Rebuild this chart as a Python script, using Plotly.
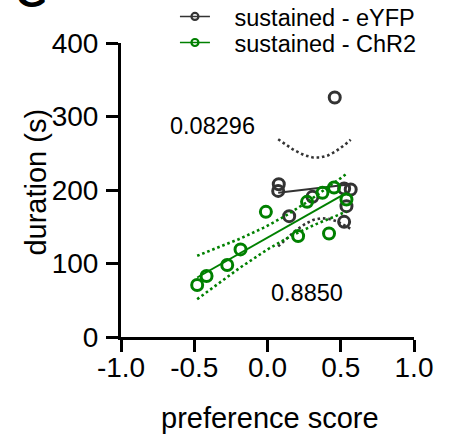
import numpy as np
import plotly.graph_objects as go

# ---------------- data ----------------
eyfp_x = [0.077, 0.073, 0.307, 0.148, 0.523, 0.568, 0.539, 0.523, 0.459]
eyfp_y = [207.9, 198.8, 190.7, 164.4, 202.1, 200.7, 178.0, 156.7, 325.8]

chr2_x = [-0.480, -0.416, -0.275, -0.184, -0.011, 0.209, 0.420, 0.270, 0.375, 0.454, 0.539]
chr2_y = [70.7, 82.9, 97.9, 119.2, 170.3, 137.3, 140.9, 183.9, 196.1, 203.5, 187.1]

series_names = ["sustained - eYFP", "sustained - ChR2"]
fit_labels = ["0.08296", "0.8850"]

x_ticks = [-1.0, -0.5, 0.0, 0.5, 1.0]
x_tick_labels = ["-1.0", "-0.5", "0.0", "0.5", "1.0"]
y_ticks = [0, 100, 200, 300, 400]

# two-sided 95% t critical values by degrees of freedom
t_crit = {7: 2.365, 9: 2.262}

DARK = "#333333"
GREEN = "#008000"
FONT = "Arial, 'Liberation Sans', sans-serif"


def fit_band(x, y, n_pts=80):
    x = np.asarray(x, float)
    y = np.asarray(y, float)
    n = len(x)
    b, a = np.polyfit(x, y, 1)
    xs = np.linspace(x.min(), x.max(), n_pts)
    yhat = a + b * xs
    resid = y - (a + b * x)
    s = np.sqrt(np.sum(resid ** 2) / (n - 2))
    sxx = np.sum((x - x.mean()) ** 2)
    se = s * np.sqrt(1.0 / n + (xs - x.mean()) ** 2 / sxx)
    t = t_crit[n - 2]
    return xs, yhat, yhat - t * se, yhat + t * se


fig = go.Figure()

for xs_data, ys_data, color, name, lg in [
    (eyfp_x, eyfp_y, DARK, series_names[0], "legend"),
    (chr2_x, chr2_y, GREEN, series_names[1], "legend2"),
]:
    xs, yhat, lo, hi = fit_band(xs_data, ys_data)
    for band in (lo, hi):
        fig.add_trace(go.Scatter(
            x=xs, y=band, mode="lines", showlegend=False, hoverinfo="skip",
            line=dict(color=color, width=2.6, dash="2.6px,2.8px")))
    fig.add_trace(go.Scatter(
        x=xs, y=yhat, mode="lines", showlegend=False, hoverinfo="skip",
        line=dict(color=color, width=2)))
    fig.add_trace(go.Scatter(
        x=xs_data, y=ys_data, mode="markers", showlegend=False,
        marker=dict(symbol="circle-open", size=11, color=color,
                    line=dict(width=3, color=color))))
    # legend entry
    fig.add_trace(go.Scatter(
        x=[None], y=[None], mode="lines+markers", name="\u00a0\u00a0\u00a0" + name,
        legend=lg,
        line=dict(color=color, width=1.6),
        marker=dict(symbol="circle-open", size=7, color=color,
                    line=dict(width=2.2, color=color))))

axis_common = dict(
    showline=True, linewidth=3, linecolor="black",
    ticks="outside", ticklen=12, tickwidth=3, tickcolor="black",
    showgrid=False, zeroline=False, automargin=False,
    tickfont=dict(family=FONT, size=28, color="black"),
)

fig.update_layout(
    width=451, height=440,
    margin=dict(l=121, r=37, t=43, b=103, autoexpand=False),
    paper_bgcolor="white", plot_bgcolor="white",
    font=dict(family=FONT, color="black"),
    xaxis=dict(range=[-1, 1], tickvals=x_ticks, ticktext=x_tick_labels,
               ticklabelstandoff=-9, **axis_common),
    yaxis=dict(range=[0, 400], tickvals=y_ticks, ticklabelstandoff=2, **axis_common),
    legend=dict(x=(175 - 121) / 293.3, xanchor="left", y=(337 - 16.7) / 294, yanchor="middle",
                font=dict(family=FONT, size=23.5, color="black"),
                bgcolor="rgba(0,0,0,0)", borderwidth=0),
    legend2=dict(x=(175 - 121) / 293.3, xanchor="left", y=(337 - 42.7) / 294, yanchor="middle",
                 font=dict(family=FONT, size=23.5, color="black"),
                 bgcolor="rgba(0,0,0,0)", borderwidth=0),
    annotations=[
        dict(text=fit_labels[0], x=-0.373, y=286.8, xref="x", yref="y",
             showarrow=False, font=dict(family=FONT, size=23.5, color="black")),
        dict(text=fit_labels[1], x=0.272, y=59.4, xref="x", yref="y",
             showarrow=False, font=dict(family=FONT, size=23.5, color="black")),
        dict(text="preference score", x=(270 - 121) / 293.3, y=(337 - 418) / 294,
             xref="paper", yref="paper", showarrow=False, yanchor="middle",
             font=dict(family=FONT, size=29, color="black")),
        dict(text="duration (s)", x=(35 - 121) / 293.3, y=(337 - 182.5) / 294,
             xref="paper", yref="paper", showarrow=False, textangle=-90,
             xanchor="center", yanchor="middle",
             font=dict(family=FONT, size=29, color="black")),
        dict(text="<b>G</b>", x=(31.5 - 121) / 293.3, y=(337 - 17) / 294,
             xref="paper", yref="paper", showarrow=False,
             xanchor="center", yanchor="bottom",
             font=dict(family=FONT, size=40, color="black")),
    ],
)

fig.write_html(
    "out.html",
    config={"displayModeBar": False},
    post_script="document.body.style.margin='0';document.body.style.padding='0';",
)
